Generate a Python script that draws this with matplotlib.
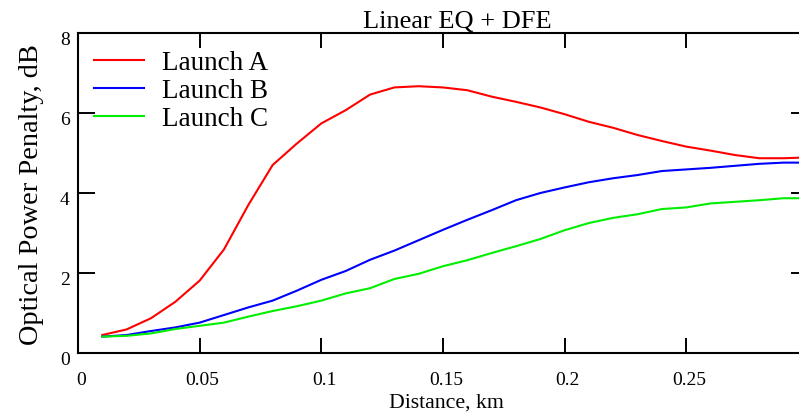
import matplotlib
matplotlib.use("Agg")
import matplotlib.pyplot as plt
import matplotlib.transforms as mtransforms

plt.rcParams["font.family"] = ["Liberation Serif", "DejaVu Serif"]

# Distance grid in km and penalty for each launch condition, in dB
distance_km = [0.01, 0.02, 0.03, 0.04, 0.05, 0.06, 0.07, 0.08, 0.09, 0.10,
               0.11, 0.12, 0.13, 0.14, 0.15, 0.16, 0.17, 0.18, 0.19, 0.20,
               0.21, 0.22, 0.23, 0.24, 0.25, 0.26, 0.27, 0.28, 0.29, 0.30]
launch_a = [0.45, 0.59, 0.87, 1.28, 1.81, 2.59, 3.70, 4.70, 5.24, 5.74,
            6.07, 6.46, 6.64, 6.67, 6.64, 6.57, 6.41, 6.28, 6.14, 5.97,
            5.78, 5.63, 5.45, 5.30, 5.16, 5.06, 4.95, 4.87, 4.87, 4.89]
launch_b = [0.41, 0.45, 0.55, 0.64, 0.76, 0.95, 1.14, 1.31, 1.56, 1.83,
            2.05, 2.33, 2.56, 2.82, 3.08, 3.33, 3.57, 3.82, 4.00, 4.14,
            4.27, 4.37, 4.45, 4.55, 4.59, 4.63, 4.68, 4.73, 4.76, 4.76]
launch_c = [0.41, 0.43, 0.49, 0.60, 0.68, 0.76, 0.91, 1.05, 1.17, 1.31,
            1.49, 1.62, 1.85, 1.98, 2.17, 2.32, 2.50, 2.67, 2.85, 3.07,
            3.25, 3.38, 3.47, 3.60, 3.64, 3.74, 3.78, 3.82, 3.87, 3.87]

series = [
    ("Launch A", launch_a, "#ff0000"),
    ("Launch B", launch_b, "#0000ff"),
    ("Launch C", launch_c, "#00ee00"),
]

x_ticks = [0, 0.05, 0.1, 0.15, 0.2, 0.25]
x_tick_labels = ["0", "0.05", "0.1", "0.15", "0.2", "0.25"]
y_ticks = [0, 2, 4, 6, 8]

fig = plt.figure(figsize=(7.99, 4.16), dpi=100)
ax = fig.add_axes([0.0976, 0.1514, 0.9136, 0.7692])

for label, values, color in series:
    ax.plot(distance_km, values, color=color, linewidth=1.5, label=label)

ax.set_xlim(0, 0.3)
ax.set_ylim(0, 8)
ax.set_xticks(x_ticks)
ax.set_xticklabels(x_tick_labels)
ax.set_yticks(y_ticks)

for side in ["left", "bottom", "top", "right"]:
    ax.spines[side].set_linewidth(1.5)

ax.tick_params(axis="x", direction="in", length=10.8, width=1.4,
               top=True, labelsize=14, pad=14)
ax.tick_params(axis="y", direction="in", length=12.2, width=1.4,
               right=True, labelsize=14, pad=6)

# nudge the tick labels slightly, like the original plotting package
y_shift = mtransforms.ScaledTranslation(0, -5 / 100, fig.dpi_scale_trans)
for lbl in ax.get_yticklabels():
    lbl.set_transform(lbl.get_transform() + y_shift)
x_shift = mtransforms.ScaledTranslation(3 / 100, 0, fig.dpi_scale_trans)
for lbl in ax.get_xticklabels():
    lbl.set_transform(lbl.get_transform() + x_shift)

fig.text(457 / 799, 1 - 22 / 416, "Linear EQ + DFE", fontsize=19,
         ha="center", va="center")
fig.text(446 / 799, 1 - 403 / 416, "Distance, km", fontsize=15.7,
         ha="center", va="center")
fig.text(32 / 799, 1 - 195 / 416, "Optical Power Penalty, dB", fontsize=20.4,
         rotation=90, ha="center", va="center")

ax.legend(loc="upper left", bbox_to_anchor=(0.0, 0.995), frameon=False,
          fontsize=19.5, handlelength=1.85, handletextpad=0.65,
          labelspacing=0.11, borderaxespad=0.4, borderpad=0.2)

fig.savefig("out.png", dpi=100)
